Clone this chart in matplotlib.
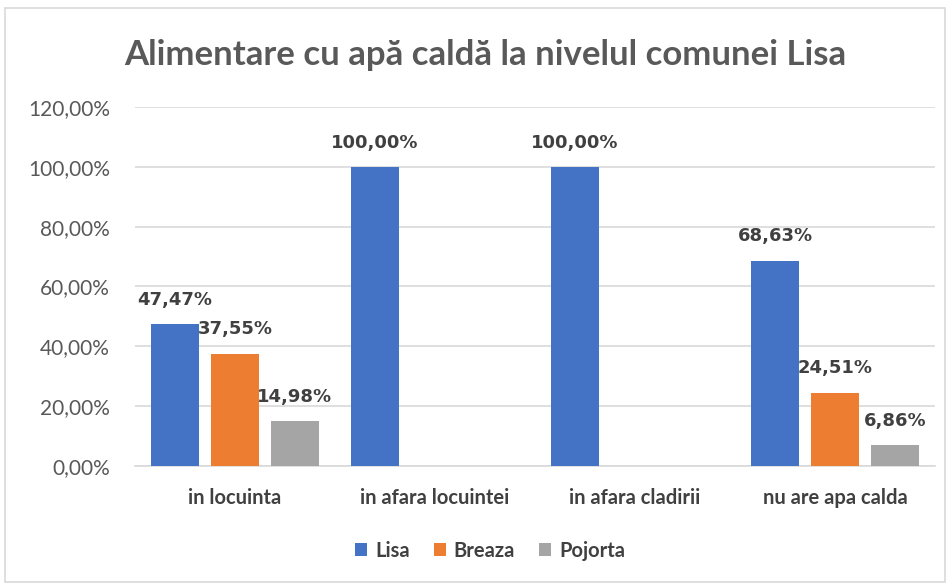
import matplotlib.pyplot as plt
import matplotlib.patches as patches
import numpy as np

categories = ["in locuinta", "in afara locuintei", "in afara cladirii", "nu are apa calda"]
series_names = ["Lisa", "Breaza", "Pojorta"]
lisa = [47.47, 100.00, 100.00, 68.63]
breaza = [37.55, np.nan, np.nan, 24.51]
pojorta = [14.98, np.nan, np.nan, 6.86]
y_ticks = [0, 20, 40, 60, 80, 100, 120]

colors = ["#4472C4", "#ED7D31", "#A5A5A5"]
font = ["Lato", "DejaVu Sans"]

fig = plt.figure(figsize=(9.48, 5.84), dpi=100)
ax = fig.add_axes([0.1424, 0.2021, 0.8439, 0.6147])

# outer chart frame
fig.patches.append(patches.Rectangle((0.005, 0.004), 0.992, 0.982, transform=fig.transFigure,
                                     fill=False, edgecolor="#D9D9D9", linewidth=1.2))

x = np.arange(len(categories))
width = 0.24
offsets = [-0.3, 0.0, 0.3]
for vals, name, col, off in zip([lisa, breaza, pojorta], series_names, colors, offsets):
    bars = ax.bar(x + off, vals, width, color=col, label=name, zorder=3)
    for xi, v in zip(x + off, vals):
        if np.isnan(v):
            continue
        ax.annotate(f"{v:.2f}%".replace(".", ","), (xi, v), xytext=(0, 11), textcoords="offset points",
                    ha="center", va="bottom", fontsize=13, fontweight="bold",
                    color="#404040", family="DejaVu Sans")

ax.set_xlim(-0.5, len(categories) - 0.5)
ax.set_ylim(0, 120)
ax.set_yticks(y_ticks)
ax.set_yticklabels([f"{t:.2f}%".replace(".", ",") for t in y_ticks], family=font,
                   fontsize=15, color="#595959")
ax.set_xticks(x)
ax.set_xticklabels(categories, family=font, fontsize=14.5, color="#404040", fontweight="bold")
ax.tick_params(axis="both", length=0)
ax.tick_params(axis="x", pad=16)
ax.tick_params(axis="y", pad=18)
ax.yaxis.grid(True, color="#D9D9D9", linewidth=1.2, zorder=0)
for s in ["top", "right", "left"]:
    ax.spines[s].set_visible(False)
ax.spines["bottom"].set_color("#D9D9D9")
ax.spines["bottom"].set_linewidth(1.2)

fig.text(0.512, 0.905, "Alimentare cu apă caldă la nivelul comunei Lisa", ha="center", va="center",
         fontsize=25, fontweight="bold", color="#595959", family=font)

fig.legend(loc="center", bbox_to_anchor=(0.517, 0.057), ncol=3, frameon=False,
           prop={"family": font, "size": 14.5, "weight": "bold"}, handlelength=0.6, handleheight=0.6,
           handletextpad=0.4, columnspacing=1.2, labelcolor="#404040")

fig.savefig("out.png", dpi=100)
